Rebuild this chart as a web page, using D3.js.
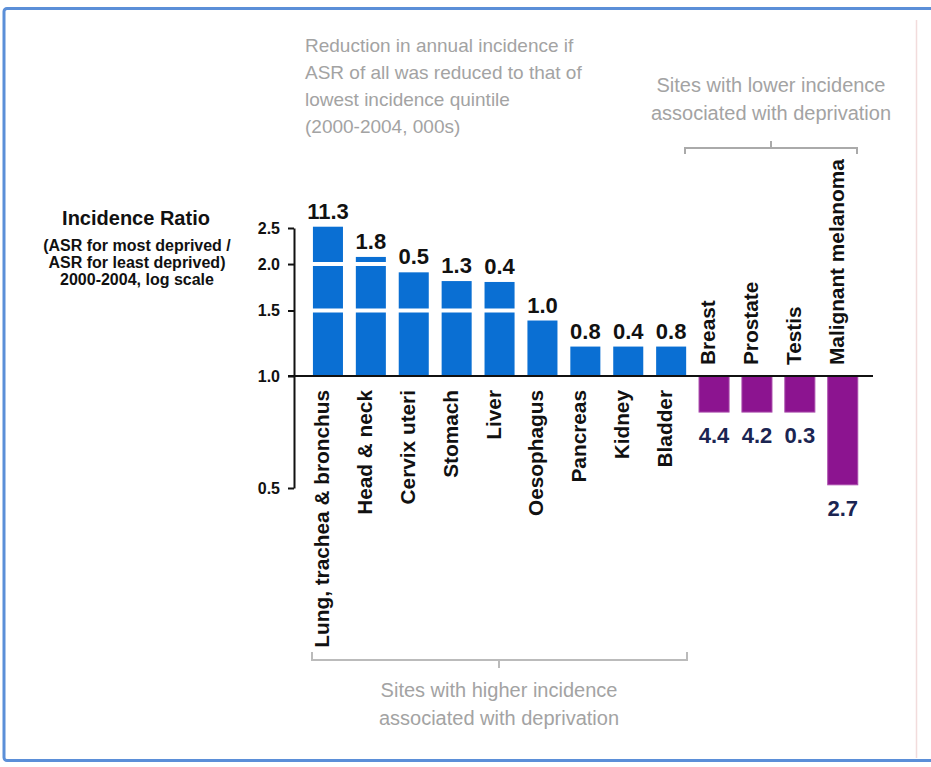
<!DOCTYPE html>
<html>
<head>
<meta charset="utf-8">
<script src="https://cdn.jsdelivr.net/npm/d3@7"></script>
<style>
  html, body { margin: 0; padding: 0; background: #fff; }
  svg { display: block; font-family: "Liberation Sans", Arial, sans-serif; }
</style>
</head>
<body>
<svg id="chart" width="931" height="767"></svg>
<script>
// ---- data ----
const categories = ["Lung, trachea & bronchus", "Head & neck", "Cervix uteri", "Stomach", "Liver",
  "Oesophagus", "Pancreas", "Kidney", "Bladder", "Breast", "Prostate", "Testis", "Malignant melanoma"];
const incidenceRatio = [2.52, 2.09, 1.90, 1.80, 1.79, 1.41, 1.20, 1.20, 1.20, 0.80, 0.80, 0.80, 0.51];
const reductionLabels = ["11.3", "1.8", "0.5", "1.3", "0.4", "1.0", "0.8", "0.4", "0.8", "4.4", "4.2", "0.3", "2.7"];
const yTicks = [0.5, 1.0, 1.5, 2.0, 2.5];
const gridTicks = [1.5, 2.0];

const svg = d3.select("#chart");

// frame
svg.append("rect").attr("x", 4).attr("y", 8.5).attr("width", 960).attr("height", 752)
  .attr("rx", 3).attr("fill", "none").attr("stroke", "#5b8fd8").attr("stroke-width", 3);
svg.append("line").attr("x1", 916.5).attr("x2", 916.5).attr("y1", 20).attr("y2", 758)
  .attr("stroke", "#f2dcdc").attr("stroke-width", 1.5);

// scales
const x = d3.scaleBand().domain(categories).range([306.5, 864.2]).paddingInner(0.3).paddingOuter(0.15);
const y = d3.scaleLog().domain([0.5, 2.5]).range([488, 228]);
const base = y(1);

const data = categories.map((c, i) => ({ c, v: incidenceRatio[i], lab: reductionLabels[i] }));

// bars
svg.append("g").selectAll("rect").data(data).join("rect")
  .attr("x", d => x(d.c))
  .attr("width", x.bandwidth())
  .attr("y", d => d.v >= 1 ? y(d.v) : base)
  .attr("height", d => Math.abs(y(d.v) - base))
  .attr("fill", d => d.v >= 1 ? "#0a6fd3" : "#8c1490")
  .attr("stroke", d => d.v >= 1 ? "none" : "#a94bab")
  .attr("stroke-width", 1);

// white gridlines over bars
svg.append("g").selectAll("line").data(gridTicks).join("line")
  .attr("x1", 300).attr("x2", 694)
  .attr("y1", d => y(d)).attr("y2", d => y(d))
  .attr("stroke", "#fff").attr("stroke-width", 4);

// baseline
svg.append("line").attr("x1", 288).attr("x2", 873).attr("y1", base).attr("y2", base)
  .attr("stroke", "#111").attr("stroke-width", 2);

// y axis
const yAxis = d3.axisLeft(y).tickValues(yTicks).tickFormat(d3.format(".1f"))
  .tickSize(6).tickSizeOuter(0).tickPadding(8);
const ag = svg.append("g").attr("transform", "translate(294,0)").call(yAxis);
ag.select(".domain").attr("stroke", "#111").attr("stroke-width", 2);
ag.selectAll(".tick line").attr("stroke", "#111").attr("stroke-width", 2);
ag.selectAll(".tick text").attr("font-size", 16).attr("font-weight", "bold").attr("fill", "#111")
  .attr("font-family", "Liberation Sans, Arial, sans-serif");

// value labels
svg.append("g").selectAll("text").data(data).join("text")
  .attr("x", d => x(d.c) + x.bandwidth() / 2)
  .attr("y", d => d.v >= 1 ? y(d.v) - 8 : y(d.v) + 31)
  .attr("text-anchor", "middle")
  .attr("font-size", 22).attr("font-weight", "bold")
  .attr("fill", d => d.v >= 1 ? "#111" : "#1b2552")
  .text(d => d.lab);

// category labels (rotated)
svg.append("g").selectAll("text").data(data).join("text")
  .attr("transform", d => {
    const cx = x(d.c) + x.bandwidth() / 2 + 1;
    return d.v >= 1 ? `translate(${cx},390) rotate(-90)` : `translate(${cx},365) rotate(-90)`;
  })
  .attr("text-anchor", d => d.v >= 1 ? "end" : "start")
  .attr("font-size", 20.8).attr("font-weight", "bold").attr("fill", "#111")
  .text(d => d.c);

// y axis title
const yt = svg.append("text").attr("text-anchor", "middle").attr("fill", "#111").attr("font-weight", "bold");
yt.append("tspan").attr("x", 136).attr("y", 225).attr("font-size", 20).text("Incidence Ratio");
["(ASR for most deprived /", "ASR for least deprived)", "2000-2004, log scale"].forEach((t, i) => {
  yt.append("tspan").attr("x", 137).attr("y", 251 + i * 17).attr("font-size", 16).text(t);
});

// annotations
const gray = "#a3a3a3";
const topLeft = ["Reduction in annual incidence if", "ASR of all was reduced to that of",
  "lowest incidence quintile", "(2000-2004, 000s)"];
svg.append("g").selectAll("text").data(topLeft).join("text")
  .attr("x", 305).attr("y", (d, i) => 52 + i * 27)
  .attr("font-size", 19).attr("fill", gray).text(d => d);

const topRight = ["Sites with lower incidence", "associated with deprivation"];
svg.append("g").selectAll("text").data(topRight).join("text")
  .attr("x", 771).attr("y", (d, i) => 92 + i * 28).attr("text-anchor", "middle")
  .attr("font-size", 20).attr("fill", gray).text(d => d);

const bottom = ["Sites with higher incidence", "associated with deprivation"];
svg.append("g").selectAll("text").data(bottom).join("text")
  .attr("x", 499).attr("y", (d, i) => 697 + i * 28).attr("text-anchor", "middle")
  .attr("font-size", 20).attr("fill", gray).text(d => d);

// brackets
const bracketTop = d3.path();
bracketTop.moveTo(685, 154); bracketTop.lineTo(685, 148); bracketTop.lineTo(857, 148); bracketTop.lineTo(857, 154);
bracketTop.moveTo(771, 148); bracketTop.lineTo(771, 141);
svg.append("path").attr("d", bracketTop.toString()).attr("fill", "none").attr("stroke", "#aaa").attr("stroke-width", 2);

const bracketBot = d3.path();
bracketBot.moveTo(312, 652); bracketBot.lineTo(312, 660); bracketBot.lineTo(687, 660); bracketBot.lineTo(687, 652);
bracketBot.moveTo(499, 660); bracketBot.lineTo(499, 668);
svg.append("path").attr("d", bracketBot.toString()).attr("fill", "none").attr("stroke", "#bbb").attr("stroke-width", 2);
</script>
</body>
</html>
